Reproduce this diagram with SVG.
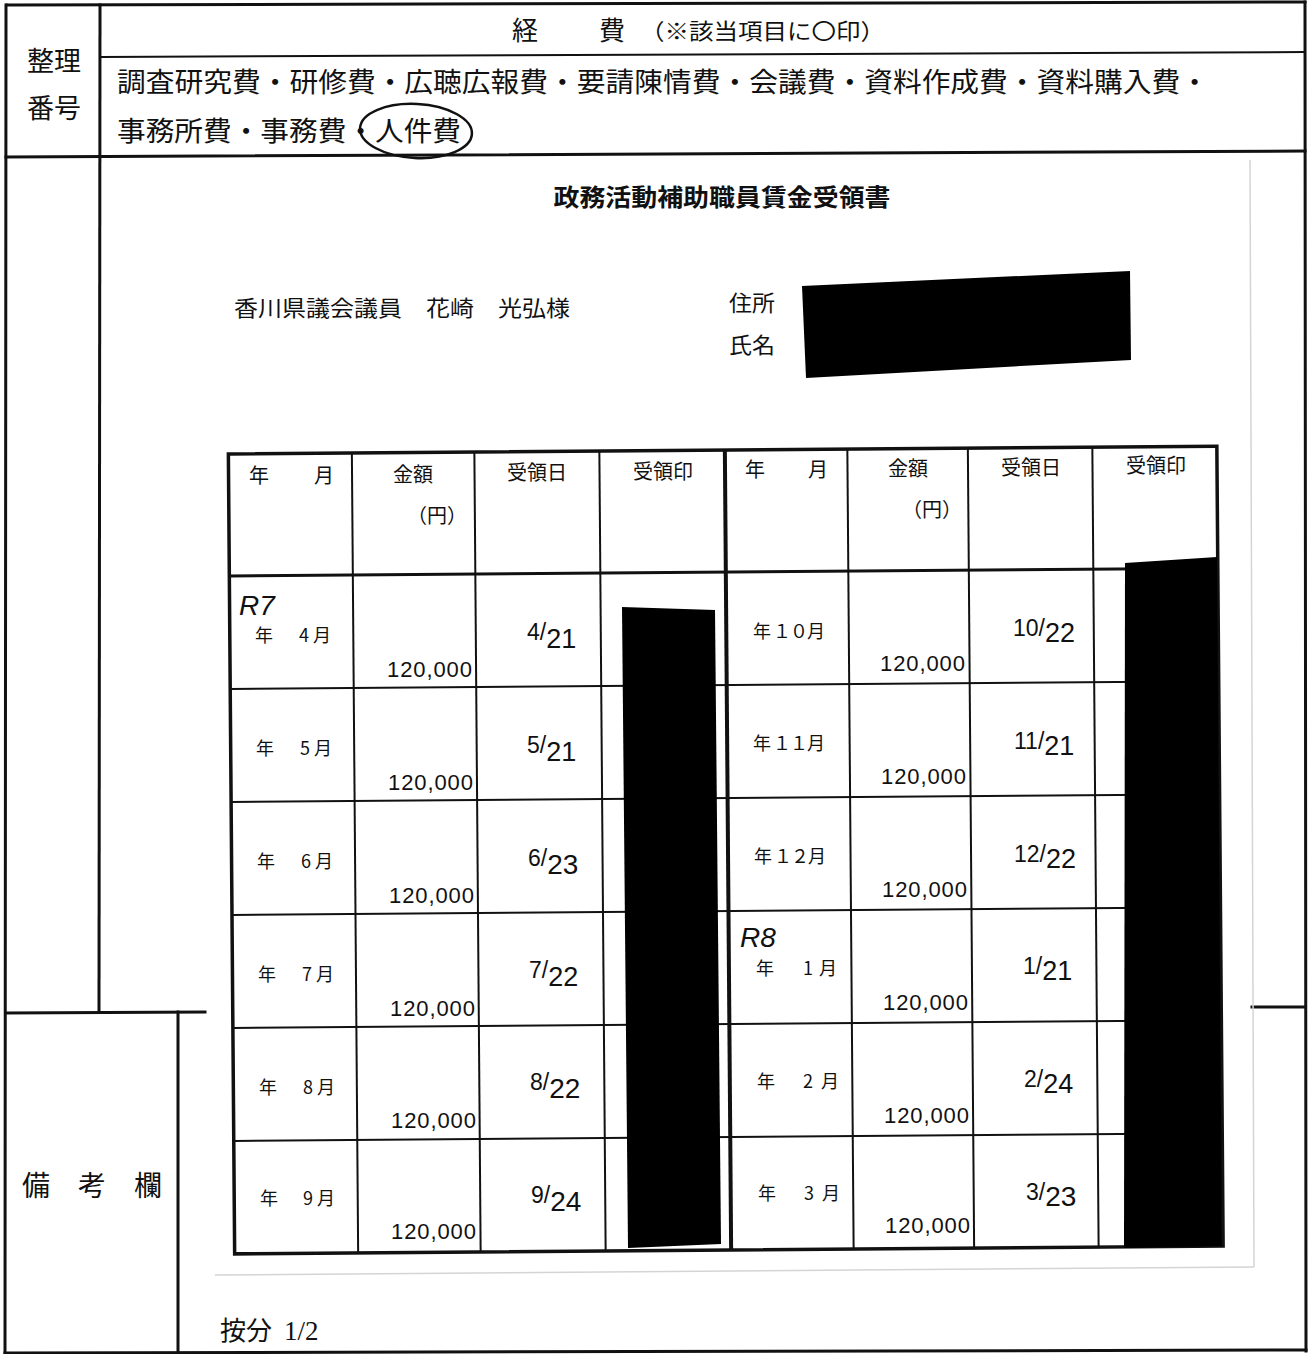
<svg xmlns="http://www.w3.org/2000/svg" width="1310" height="1354" viewBox="0 0 1310 1354">
<style>
.jp{font-family:"Noto Sans CJK JP","Noto Sans",sans-serif;fill:#111}
.num{font-family:"Liberation Sans",Arial,sans-serif;fill:#111}
.hw{font-family:"Liberation Sans",Arial,sans-serif;fill:#111;font-size:23px;font-weight:400}
.frame{stroke:#111;stroke-width:3;fill:none;stroke-linecap:square}
.thin{stroke:#111;stroke-width:2;fill:none}
.tbl{stroke:#111;fill:none}
.faint{stroke:#d4d4d4;stroke-width:1.5;fill:none}
.redact{fill:#000}
</style>
<rect width="1310" height="1354" fill="#fff"/>

<g id="form-frame">
  <line class="frame" x1="7" y1="5" x2="1305" y2="2"/>
  <line class="frame" x1="6" y1="5" x2="5" y2="1354"/>
  <line class="frame" x1="1305" y1="2" x2="1306" y2="1351"/>
  <line class="frame" x1="5" y1="1353" x2="1306" y2="1350"/>
  <line class="frame" x1="100" y1="5" x2="99" y2="1012"/>
  <line class="thin" x1="100" y1="57" x2="1305" y2="52"/>
  <line class="frame" x1="6" y1="157" x2="1305" y2="151"/>
  <line class="frame" x1="6" y1="1013" x2="205" y2="1012"/>
  <line class="frame" x1="178" y1="1012" x2="178" y2="1354"/>
  <line class="frame" x1="1252" y1="1007" x2="1305" y2="1007"/>
  <line class="faint" x1="1250" y1="160" x2="1254" y2="1267"/>
  <line class="faint" x1="215" y1="1275" x2="1254" y2="1267"/>
</g>

<g id="header">
  <text class="jp" x="54" y="71" font-size="27" text-anchor="middle">整理</text>
  <text class="jp" x="54" y="118" font-size="27" text-anchor="middle">番号</text>
  <text class="jp" x="525" y="40" font-size="26" text-anchor="middle">経</text>
  <text class="jp" x="612" y="40" font-size="26" text-anchor="middle">費</text>
  <text class="jp" x="640" y="39" font-size="22" textLength="245" lengthAdjust="spacingAndGlyphs">（※該当項目に〇印）</text>
  <text class="jp" x="117" y="92" font-size="27" textLength="1092" lengthAdjust="spacingAndGlyphs">調査研究費・研修費・広聴広報費・要請陳情費・会議費・資料作成費・資料購入費・</text>
  <text class="jp" x="117" y="141" font-size="27" textLength="344" lengthAdjust="spacingAndGlyphs">事務所費・事務費・人件費</text>
  <ellipse cx="416" cy="131" rx="56" ry="27" fill="none" stroke="#111" stroke-width="2.5" transform="rotate(3 416 131)"/>
</g>

<g id="title">
  <text class="jp" x="722" y="206" font-size="24" font-weight="700" text-anchor="middle" textLength="337" lengthAdjust="spacingAndGlyphs">政務活動補助職員賃金受領書</text>
</g>

<g id="addressee">
  <text class="jp" x="234" y="316" font-size="22" textLength="336" lengthAdjust="spacingAndGlyphs">香川県議会議員　花崎　光弘様</text>
  <text class="jp" x="729" y="311" font-size="22" textLength="46" lengthAdjust="spacingAndGlyphs">住所</text>
  <text class="jp" x="729" y="353" font-size="22" textLength="46" lengthAdjust="spacingAndGlyphs">氏名</text>
  <polygon class="redact" points="802,286 1130,271 1131,360 806,378"/>
</g>

<g id="table-grid" transform="rotate(-0.45 728 850)">
  <rect class="tbl" x="231.5" y="450" width="988.5" height="800" stroke-width="3.5"/>
  <line class="tbl" x1="728" y1="450" x2="728" y2="1250" stroke-width="4"/>
  <line class="tbl" x1="231.5" y1="572" x2="1220" y2="572" stroke-width="3"/>
  <g stroke-width="2">
    <line class="tbl" x1="355" y1="450" x2="355" y2="1250"/>
    <line class="tbl" x1="477.5" y1="450" x2="477.5" y2="1250"/>
    <line class="tbl" x1="602.5" y1="450" x2="602.5" y2="1250"/>
    <line class="tbl" x1="850.5" y1="450" x2="850.5" y2="1250"/>
    <line class="tbl" x1="971" y1="450" x2="971" y2="1250"/>
    <line class="tbl" x1="1095.5" y1="450" x2="1095.5" y2="1250"/>
    <line class="tbl" x1="231.5" y1="685" x2="1220" y2="685"/>
    <line class="tbl" x1="231.5" y1="798" x2="1220" y2="798"/>
    <line class="tbl" x1="231.5" y1="911" x2="1220" y2="911"/>
    <line class="tbl" x1="231.5" y1="1024" x2="1220" y2="1024"/>
    <line class="tbl" x1="231.5" y1="1137" x2="1220" y2="1137"/>
  </g>
</g>

<g id="table-header">
  <text class="jp" font-size="20" y="483"><tspan x="249">年</tspan><tspan x="314">月</tspan></text>
  <text class="jp" font-size="20" x="413" y="482" text-anchor="middle">金額</text>
  <text class="jp" font-size="20" x="437" y="523" text-anchor="middle">（円）</text>
  <text class="jp" font-size="20" x="537" y="480" text-anchor="middle">受領日</text>
  <text class="jp" font-size="20" x="663" y="479" text-anchor="middle">受領印</text>
  <text class="jp" font-size="20" y="477"><tspan x="745">年</tspan><tspan x="808">月</tspan></text>
  <text class="jp" font-size="20" x="908" y="476" text-anchor="middle">金額</text>
  <text class="jp" font-size="20" x="932" y="517" text-anchor="middle">（円）</text>
  <text class="jp" font-size="20" x="1031" y="475" text-anchor="middle">受領日</text>
  <text class="jp" font-size="20" x="1156" y="473" text-anchor="middle">受領印</text>
</g>

<g id="months" class="jp" font-size="18">
  <text y="642"><tspan x="255">年</tspan><tspan x="299">4</tspan><tspan x="313">月</tspan></text>
  <text y="755"><tspan x="256">年</tspan><tspan x="300">5</tspan><tspan x="314">月</tspan></text>
  <text y="868"><tspan x="257">年</tspan><tspan x="301">6</tspan><tspan x="315">月</tspan></text>
  <text y="981"><tspan x="258">年</tspan><tspan x="302">7</tspan><tspan x="316">月</tspan></text>
  <text y="1094"><tspan x="259">年</tspan><tspan x="303">8</tspan><tspan x="317">月</tspan></text>
  <text y="1205"><tspan x="260">年</tspan><tspan x="303">9</tspan><tspan x="317">月</tspan></text>
  <text y="638"><tspan x="753">年</tspan><tspan x="773">１</tspan><tspan x="790">０</tspan><tspan x="807">月</tspan></text>
  <text y="750"><tspan x="753">年</tspan><tspan x="773">１</tspan><tspan x="790">１</tspan><tspan x="807">月</tspan></text>
  <text y="863"><tspan x="754">年</tspan><tspan x="774">１</tspan><tspan x="791">２</tspan><tspan x="808">月</tspan></text>
  <text y="975"><tspan x="756">年</tspan><tspan x="803">1</tspan><tspan x="819">月</tspan></text>
  <text y="1088"><tspan x="757">年</tspan><tspan x="803">2</tspan><tspan x="821">月</tspan></text>
  <text y="1200"><tspan x="758">年</tspan><tspan x="804">3</tspan><tspan x="822">月</tspan></text>
</g>

<g id="amounts" class="num" font-size="22" text-anchor="end">
  <text x="472" y="677" textLength="85">120,000</text>
  <text x="473" y="790" textLength="85">120,000</text>
  <text x="474" y="903" textLength="85">120,000</text>
  <text x="475" y="1016" textLength="85">120,000</text>
  <text x="476" y="1128" textLength="85">120,000</text>
  <text x="476" y="1239" textLength="85">120,000</text>
  <text x="965" y="671" textLength="85">120,000</text>
  <text x="966" y="784" textLength="85">120,000</text>
  <text x="967" y="897" textLength="85">120,000</text>
  <text x="968" y="1010" textLength="85">120,000</text>
  <text x="969" y="1123" textLength="85">120,000</text>
  <text x="970" y="1233" textLength="85">120,000</text>
</g>

<g id="handwriting" class="hw">
  <text x="239" y="615" font-size="28" font-style="italic">R7</text>
  <text x="740" y="947" font-size="28" font-style="italic">R8</text>
  <text x="527" y="640">4/<tspan dy="8" font-size="27">21</tspan></text>
  <text x="527" y="753">5/<tspan dy="8" font-size="27">21</tspan></text>
  <text x="528" y="866">6/<tspan dy="8" font-size="28">23</tspan></text>
  <text x="529" y="978">7/<tspan dy="8" font-size="27">22</tspan></text>
  <text x="530" y="1090">8/<tspan dy="8" font-size="28">22</tspan></text>
  <text x="531" y="1203">9/<tspan dy="8" font-size="28">24</tspan></text>
  <text x="1013" y="636">10/<tspan dy="6" font-size="27">22</tspan></text>
  <text x="1014" y="749">11/<tspan dy="6" font-size="27">21</tspan></text>
  <text x="1014" y="862">12/<tspan dy="6" font-size="27">22</tspan></text>
  <text x="1023" y="974">1/<tspan dy="6" font-size="27">21</tspan></text>
  <text x="1024" y="1087">2/<tspan dy="6" font-size="27">24</tspan></text>
  <text x="1026" y="1200">3/<tspan dy="6" font-size="28">23</tspan></text>
</g>

<g id="stamp-redactions">
  <polygon class="redact" points="622,607 715,610 721,1244 628,1248"/>
  <polygon class="redact" points="1125,563 1217,557 1222,1246 1124,1248"/>
</g>

<g id="remarks">
  <text class="jp" font-size="28" y="1196"><tspan x="22">備</tspan><tspan x="78">考</tspan><tspan x="134">欄</tspan></text>
  <text class="jp" font-size="26" x="220" y="1340">按分</text>
  <text font-family="Liberation Serif,serif" font-size="27" x="284" y="1340" fill="#111">1/2</text>
</g>
</svg>
